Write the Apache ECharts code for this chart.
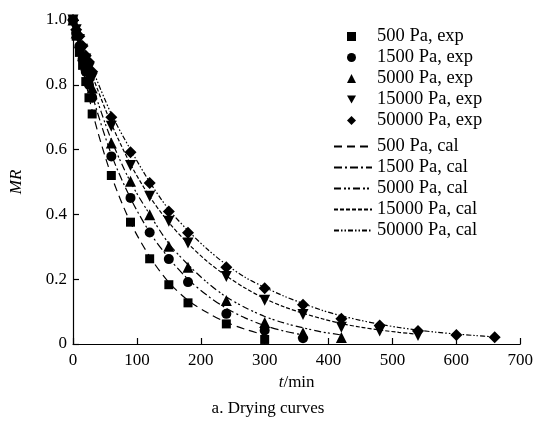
<!DOCTYPE html>
<html>
<head>
<meta charset="utf-8">
<script src="https://cdn.jsdelivr.net/npm/echarts@6/dist/echarts.min.js"></script>
<style>html,body{margin:0;padding:0;background:#fff}#c{width:536px;height:425px}</style>
</head>
<body>
<div id="c"></div>
<script>
// ---- data ----
const tExp500 = [0, 5, 10, 15, 20, 25, 30, 60, 90, 120, 150, 180, 240, 300];
const mrExp500 = [1.0, 0.95, 0.90, 0.86, 0.81, 0.76, 0.71, 0.52, 0.376, 0.263, 0.183, 0.127, 0.062, 0.014];
const tExp1500 = [0, 5, 10, 15, 20, 25, 30, 60, 90, 120, 150, 180, 240, 300, 360];
const mrExp1500 = [1.0, 0.96, 0.92, 0.88, 0.84, 0.80, 0.76, 0.579, 0.451, 0.344, 0.262, 0.191, 0.093, 0.042, 0.018];
const tExp5000 = [0, 5, 10, 15, 20, 25, 30, 60, 90, 120, 150, 180, 240, 300, 360, 420];
const mrExp5000 = [1.0, 0.96, 0.93, 0.89, 0.86, 0.83, 0.79, 0.62, 0.502, 0.399, 0.302, 0.237, 0.134, 0.066, 0.035, 0.02];
const tExp15000 = [0, 5, 10, 15, 20, 25, 30, 60, 90, 120, 150, 180, 240, 300, 360, 420, 480, 540];
const mrExp15000 = [1.0, 0.97, 0.94, 0.91, 0.88, 0.85, 0.82, 0.672, 0.551, 0.456, 0.379, 0.312, 0.208, 0.135, 0.091, 0.052, 0.04, 0.026];
const tExp50000 = [0, 5, 10, 15, 20, 25, 30, 60, 90, 120, 150, 180, 240, 300, 360, 420, 480, 540, 600, 660];
const mrExp50000 = [1.0, 0.97, 0.95, 0.92, 0.89, 0.87, 0.84, 0.70, 0.592, 0.497, 0.409, 0.343, 0.237, 0.172, 0.121, 0.078, 0.057, 0.04, 0.028, 0.021];

const tCal500 = [0, 30, 60, 90, 120, 150, 180, 210, 240, 270, 300];
const mrCal500 = [1.0, 0.72, 0.52, 0.375, 0.27, 0.19, 0.135, 0.097, 0.067, 0.045, 0.028];
const tCal1500 = [0, 30, 60, 90, 120, 150, 180, 210, 240, 270, 300, 330, 360];
const mrCal1500 = [1.0, 0.77, 0.585, 0.45, 0.345, 0.265, 0.2, 0.15, 0.11, 0.08, 0.057, 0.04, 0.028];
const tCal5000 = [0, 30, 60, 90, 120, 150, 180, 210, 240, 270, 300, 330, 360, 390, 420];
const mrCal5000 = [1.0, 0.8, 0.63, 0.5, 0.4, 0.31, 0.245, 0.19, 0.145, 0.112, 0.085, 0.065, 0.05, 0.037, 0.028];
const tCal15000 = [0, 30, 60, 90, 120, 150, 180, 210, 240, 270, 300, 330, 360, 390, 420, 450, 480, 510, 540];
const mrCal15000 = [1.0, 0.83, 0.68, 0.555, 0.455, 0.375, 0.31, 0.255, 0.21, 0.172, 0.14, 0.115, 0.095, 0.078, 0.063, 0.052, 0.043, 0.036, 0.03];
const tCal50000 = [0, 30, 60, 90, 120, 150, 180, 210, 240, 270, 300, 330, 360, 390, 420, 450, 480, 510, 540, 570, 600, 630, 660];
const mrCal50000 = [1.0, 0.85, 0.71, 0.6, 0.5, 0.415, 0.35, 0.293, 0.245, 0.205, 0.175, 0.148, 0.125, 0.104, 0.087, 0.073, 0.061, 0.051, 0.043, 0.036, 0.031, 0.026, 0.022];

const expNames = ['500 Pa, exp', '1500 Pa, exp', '5000 Pa, exp', '15000 Pa, exp', '50000 Pa, exp'];
const calNames = ['500 Pa, cal', '1500 Pa, cal', '5000 Pa, cal', '15000 Pa, cal', '50000 Pa, cal'];
const xTicks = [0, 100, 200, 300, 400, 500, 600, 700];
const yTicks = [0, 0.2, 0.4, 0.6, 0.8, 1.0];

// ---- build ----
const zip = (a, b) => a.map((v, i) => [v, b[i]]);
const FONT = 'Liberation Serif';
const invTri = 'path://M0,0 L10,0 L5,9 Z';
const expSym = ['rect', 'circle', 'triangle', invTri, 'diamond'];
const expSize = [9, 10, 11, 11, 12];
const expData = [zip(tExp500, mrExp500), zip(tExp1500, mrExp1500), zip(tExp5000, mrExp5000), zip(tExp15000, mrExp15000), zip(tExp50000, mrExp50000)];
const calData = [zip(tCal500, mrCal500), zip(tCal1500, mrCal1500), zip(tCal5000, mrCal5000), zip(tCal15000, mrCal15000), zip(tCal50000, mrCal50000)];
const calDash = [[8, 5], [8, 3, 2, 3], [7, 3, 2, 2, 2, 3], [4, 2], [5, 2, 1.5, 2, 1.5, 2]];

const series = [];
calData.forEach((d, i) => series.push({
  name: calNames[i], type: 'line', data: d, smooth: 0.3,
  symbol: 'none', showSymbol: false, silent: true,
  lineStyle: { color: '#000', width: 1.2, type: calDash[i] }, itemStyle: { color: '#000' }, z: 2
}));
expData.forEach((d, i) => series.push({
  name: expNames[i], type: 'scatter', data: d, symbol: expSym[i], symbolSize: expSize[i],
  itemStyle: { color: '#000', opacity: 1 }, z: 3
}));

const chart = echarts.init(document.getElementById('c'), null, { renderer: 'canvas' });
chart.setOption({
  animation: false,
  backgroundColor: '#fff',
  textStyle: { fontFamily: FONT, color: '#000' },
  grid: { left: 73, right: 15, top: 20, bottom: 81 },
  legend: [
    {
      data: expNames.map((n, i) => ({ name: n, icon: expSym[i] })),
      orient: 'vertical', left: 347, top: 27, padding: 0, itemWidth: 9, itemHeight: 9, itemGap: 2,
      selectedMode: false, itemStyle: { color: '#000', opacity: 1 },
      textStyle: { fontFamily: FONT, fontSize: 18.5, color: '#000', padding: [0, 0, 0, 16] }
    },
    {
      data: calNames, orient: 'vertical', left: 333, top: 137, padding: 0, itemWidth: 38, itemHeight: 8, itemGap: 2,
      selectedMode: false,
      itemStyle: { opacity: 0 },
      textStyle: { fontFamily: FONT, fontSize: 18.5, color: '#000' }
    }
  ],
  xAxis: {
    type: 'value', min: xTicks[0], max: xTicks[xTicks.length - 1], interval: 100,
    name: '{i|t}/min', nameLocation: 'middle', nameGap: 24,
    nameTextStyle: { fontFamily: FONT, fontSize: 17, color: '#000', rich: { i: { fontStyle: 'italic', fontFamily: FONT, fontSize: 17 } } },
    axisLine: { lineStyle: { color: '#000', width: 1.2 } },
    axisTick: { inside: true, length: 6, lineStyle: { color: '#000', width: 1.2 } },
    axisLabel: { fontFamily: FONT, fontSize: 17, color: '#000', margin: 8 },
    splitLine: { show: false }
  },
  yAxis: {
    type: 'value', min: yTicks[0], max: yTicks[yTicks.length - 1], interval: 0.2,
    name: 'MR', nameLocation: 'middle', nameGap: 48, nameRotate: 90,
    nameTextStyle: { fontFamily: FONT, fontSize: 17, fontStyle: 'italic', color: '#000' },
    axisLine: { show: true, lineStyle: { color: '#000', width: 1.2 } },
    axisTick: { show: true, inside: true, length: 6, lineStyle: { color: '#000', width: 1.2 } },
    axisLabel: { fontFamily: FONT, fontSize: 17, color: '#000', margin: 6,
      formatter: v => v === 0 ? '0' : v.toFixed(1) },
    splitLine: { show: false }
  },
  graphic: [{
    type: 'text', left: 'center', top: 400,
    style: { text: 'a. Drying curves', font: '17px "Liberation Serif"', fill: '#000' }
  }],
  series: series
});
</script>
</body>
</html>
